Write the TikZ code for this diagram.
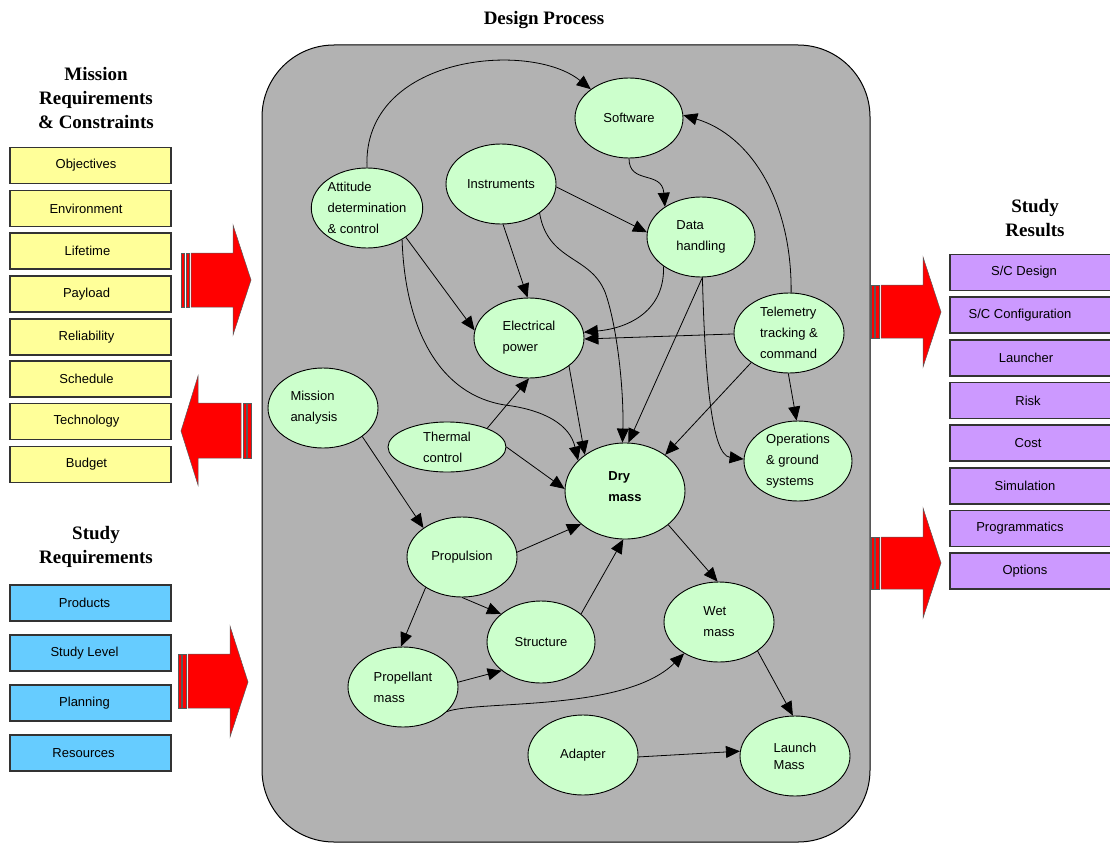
\documentclass[tikz,border=0pt]{standalone}
\usepackage{fontspec}
\setmainfont{Liberation Sans}
\newfontfamily\ttlfont{Liberation Serif}
\usetikzlibrary{arrows.meta,shapes.geometric}
\definecolor{bubfill}{HTML}{CCFFCC}
\definecolor{yfill}{HTML}{FFFF99}
\definecolor{bfill}{HTML}{66CCFF}
\definecolor{pfill}{HTML}{CC99FF}
\definecolor{boxgray}{HTML}{B2B2B2}
\begin{document}
\begin{tikzpicture}[x=1pt,y=-1pt,
  bub/.style={ellipse, draw=black, line width=0.9pt, fill=bubfill, inner sep=0pt, align=left,
              minimum width=110pt, minimum height=80pt, font=\fontsize{13}{21}\selectfont},
  sbox/.style={rectangle, draw=black!80, line width=1.1pt, minimum width=161pt, minimum height=36pt,
              inner sep=0pt, font=\fontsize{13}{16}\selectfont},
  ybox/.style={sbox, fill=yfill},
  bbox/.style={sbox, fill=bfill},
  pbox/.style={sbox, fill=pfill, minimum width=162pt},
  conn/.style={-{Triangle[length=14pt,width=12pt]}, line width=0.8pt},
  ttl/.style={font=\ttlfont\bfseries\fontsize{19}{24}\selectfont, align=center},
  redarr/.style={fill=red, draw=black!65, line width=0.5pt}
]
\useasboundingbox (0,0) rectangle (1110,843);

% titles
\node[ttl] (tdes) at (544,20) {Design Process};
\node[ttl] (tmis) at (96,98) {Mission\\Requirements\\\& Constraints};
\node[ttl] (tstu) at (96,547) {Study\\Requirements};
\node[ttl] (tres) at (1035,218) {Study\\Results};

% design process container
\draw[line width=1pt, fill=boxgray, rounded corners=72pt] (262,45) rectangle (870,842);

% left yellow boxes
\node[ybox] (obj) at (90.5,165.5) {\hspace*{-9pt}Objectives};
\node[ybox] (env) at (90.5,208.5) {\hspace*{-9pt}Environment};
\node[ybox] (lif) at (90.5,251) {\hspace*{-6pt}Lifetime};
\node[ybox] (pay) at (90.5,294) {\hspace*{-8pt}Payload};
\node[ybox] (rel) at (90.5,337) {\hspace*{-8pt}Reliability};
\node[ybox] (sch) at (90.5,379) {\hspace*{-8pt}Schedule};
\node[ybox] (tec) at (90.5,421.5) {\hspace*{-8pt}Technology};
\node[ybox] (bud) at (90.5,464.5) {\hspace*{-8pt}Budget};

% blue boxes
\node[bbox] (prd) at (90.5,603) {\hspace*{-12pt}Products};
\node[bbox] (slv) at (90.5,653) {\hspace*{-12pt}Study Level};
\node[bbox] (pln) at (90.5,703) {\hspace*{-12pt}Planning};
\node[bbox] (res) at (90.5,753) {\hspace*{-14pt}Resources};

% purple boxes
\node[pbox] (scd) at (1031,272.5) {\hspace*{-14pt}S/C Design};
\node[pbox] (scc) at (1031,315) {\hspace*{-22pt}S/C Configuration};
\node[pbox] (lau) at (1031,358) {\hspace*{-10pt}Launcher};
\node[pbox] (rsk) at (1031,400.5) {\hspace*{-6pt}Risk};
\node[pbox] (cst) at (1031,443) {\hspace*{-6pt}Cost};
\node[pbox] (sim) at (1031,486) {\hspace*{-12pt}Simulation};
\node[pbox] (prg) at (1031,528.5) {\hspace*{-22pt}Programmatics};
\node[pbox] (opt) at (1031,571) {\hspace*{-12pt}Options};

% red block arrows
\draw[redarr] (181,253) rectangle (184.5,307);
\draw[redarr] (186,253) rectangle (189.5,307);
\draw[redarr] (191,253) -- (233,253) -- (233,225) -- (251,280) -- (233,335) -- (233,307) -- (191,307) -- cycle;

\draw[redarr] (243,403) rectangle (246,458);
\draw[redarr] (247.5,403) rectangle (251,458);
\draw[redarr] (241,403) -- (198,403) -- (198,376) -- (181,431) -- (198,485) -- (198,458) -- (241,458) -- cycle;

\draw[redarr] (178,654) rectangle (181,708);
\draw[redarr] (182.5,654) rectangle (186,708);
\draw[redarr] (188,654) -- (230,654) -- (230,626) -- (248,682) -- (230,737) -- (230,708) -- (188,708) -- cycle;

\draw[redarr] (871,285) rectangle (874,338);
\draw[redarr] (875.5,285) rectangle (879,338);
\draw[redarr] (881,285) -- (923,285) -- (923,257) -- (941,312) -- (923,367) -- (923,338) -- (881,338) -- cycle;

\draw[redarr] (871,537) rectangle (874,589);
\draw[redarr] (875.5,537) rectangle (879,589);
\draw[redarr] (881,537) -- (923,537) -- (923,508) -- (941,563) -- (923,618) -- (923,589) -- (881,589) -- cycle;

% bubbles
\node[bub, minimum width=108pt] (sw) at (629,118) {Software};
\node[bub] (att) at (367,208) {Attitude\\determination\\\& control};
\node[bub] (ins) at (501,184) {Instruments};
\node[bub, minimum width=108pt] (dh) at (701,237) {Data\\handling};
\node[bub] (ep) at (529,338) {Electrical\\power};
\node[bub] (tel) at (789,333) {Telemetry\\tracking \&\\command};
\node[bub, minimum width=108pt] (ops) at (798,461) {Operations\\\& ground\\systems};
\node[bub] (ma) at (323,408) {\hspace*{-18pt}Mission\\\hspace*{-18pt}analysis};
\node[bub, minimum width=118pt, minimum height=50pt] (th) at (447,447) {Thermal\\control};
\node[bub, minimum width=120pt, minimum height=96pt, font=\fontsize{13}{21}\selectfont\bfseries] (dry) at (625,491) {Dry\\mass\\[-12pt]\mbox{}};
\node[bub] (pro) at (462,557) {Propulsion};
\node[bub, minimum width=108pt, minimum height=82pt] (str) at (541,642) {Structure};
\node[bub] (pm) at (403,687) {Propellant\\mass};
\node[bub] (wet) at (719,622) {Wet\\mass};
\node[bub] (adp) at (583,755) {Adapter};
\node[bub] (lm) at (795,756) {Launch\\[-4pt]Mass};

% connectors
\draw[conn] (att.90) .. controls (362,55) and (530,40) .. (sw.143);
\draw[conn] (sw.-90) .. controls (629,185) and (662,170) .. (dh.140);
\draw[conn] (ins.-3) -- (dh.175);
\draw[conn] (ins.-87) -- (ep.92);
\draw[conn] (ins.-37) .. controls (548,262) and (590,255) .. (605,292) .. controls (617,325) and (624,390) .. (dry.93);
\draw[conn] (dh.-88) -- (dry.86);
\draw[conn] (dh.-142) .. controls (665,310) and (630,328) .. (ep.6);
\draw[conn] (tel.181) -- (ep.-1);
\draw[conn] (tel.87) .. controls (792,200) and (750,135) .. (sw.3);
\draw[conn] (tel.-91) -- (ops.92);
\draw[conn] (dh.-88) .. controls (705,380) and (712,455) .. (ops.178);
\draw[conn] (att.-37) -- (ep.172);
\draw[conn] (att.-42) .. controls (405,330) and (440,395) .. (505,405) .. controls (545,410) and (570,425) .. (dry.147);
\draw[conn] (ep.-35) -- (dry.138);
\draw[conn] (tel.-142) -- (dry.42);
\draw[conn] (th.0) -- (dry.178);
\draw[conn] (th.25) -- (ep.-90);
\draw[conn] (ma.-36) -- (pro.143);
\draw[conn] (pro.5) -- (dry.-143);
\draw[conn] (str.35) -- (dry.-92);
\draw[conn] (pro.-140) -- (pm.93);
\draw[conn] (pro.-90) -- (str.145);
\draw[conn] (pm.5) -- (str.-144);
\draw[conn] (pm.-29) .. controls (480,700) and (625,712) .. (wet.-138);
\draw[conn] (dry.-38) -- (wet.92);
\draw[conn] (wet.-37) -- (lm.93);
\draw[conn] (adp.-2) -- (lm.175);
\end{tikzpicture}
\end{document}
